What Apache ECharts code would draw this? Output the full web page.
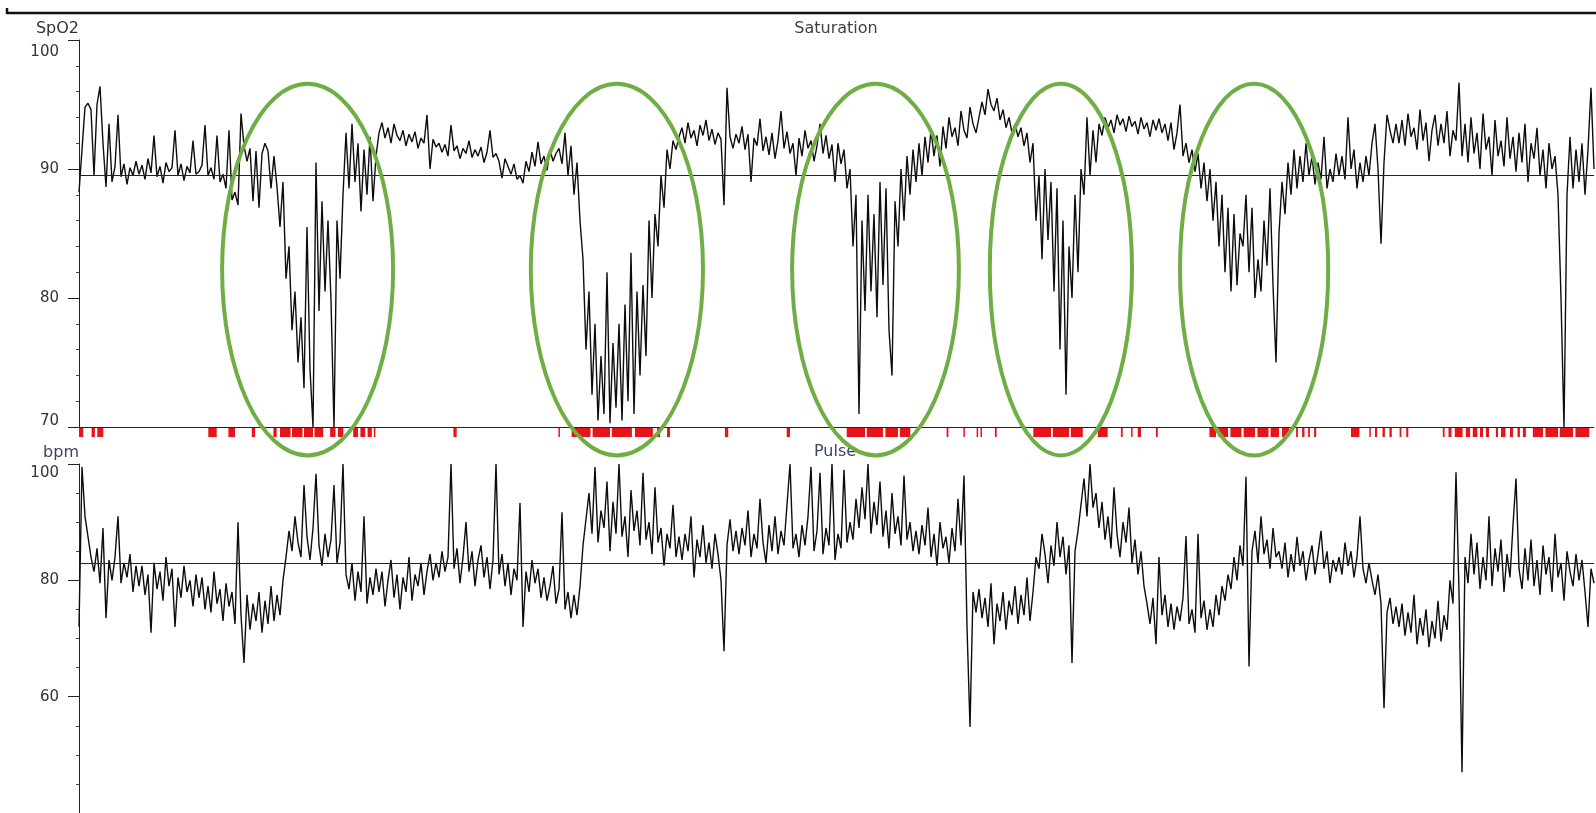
<!DOCTYPE html>
<html><head><meta charset="utf-8">
<script src="https://cdn.jsdelivr.net/npm/echarts@6/dist/echarts.min.js"></script>
<style>html,body{margin:0;padding:0;background:#fff}#chart{width:1596px;height:813px}</style>
</head><body><div id="chart"></div>
<script>
// SpO2 samples (%), one every 3 px of recording time
const spo2Values = [
88.2,91.5,94.8,95.1,94.6,89.5,95.0,96.4,92.0,88.6,93.5,89.0,90.2,94.2,89.4,90.4,88.8,90.1,89.5,90.6,
89.6,90.3,89.2,90.8,89.7,92.6,89.4,90.2,88.9,90.5,89.8,90.1,93.0,89.5,90.4,89.1,90.2,89.7,92.2,89.6,
89.8,90.3,93.4,89.5,90.1,89.2,92.6,89.0,89.6,88.5,93.0,87.6,88.2,87.2,94.3,91.8,90.6,91.6,87.5,91.4,
87.0,91.2,92.0,91.4,88.5,91.0,88.6,85.5,89.0,81.5,84.0,77.5,80.5,75.0,78.5,73.0,85.5,74.5,70.0,90.5,
79.0,87.5,80.5,86.0,79.8,70.0,86.0,81.5,88.0,92.8,88.5,93.5,89.0,92.0,86.7,91.5,88.0,92.5,87.5,91.0,
92.8,93.6,92.4,93.2,92.0,93.5,92.6,92.2,93.0,91.8,92.7,92.1,92.9,91.6,92.4,92.0,94.2,90.0,92.3,91.7,
92.0,91.3,91.9,91.0,93.4,91.4,91.8,90.8,91.6,91.2,92.2,90.9,91.5,91.0,91.7,90.5,91.3,93.0,90.9,91.2,
90.6,89.3,90.8,90.2,89.6,90.4,89.2,89.5,88.9,90.6,89.8,91.3,90.2,92.1,90.4,91.0,89.9,91.5,90.6,91.2,
91.6,90.4,92.8,89.5,91.8,88.0,90.5,86.0,83.0,76.0,80.5,72.5,78.0,70.5,75.5,71.0,82.0,70.3,76.5,71.5,
78.0,70.5,79.5,72.0,83.5,71.0,80.5,74.0,81.0,75.5,86.0,80.0,86.5,84.0,89.5,87.0,91.5,90.0,92.2,91.5,
92.5,93.2,92.0,93.6,92.4,93.0,91.8,93.4,92.6,93.8,92.2,93.1,91.9,92.8,92.3,87.2,96.3,92.5,91.6,92.7,
92.0,93.3,91.5,92.7,89.0,92.4,91.8,93.9,91.4,92.5,91.1,92.8,90.8,92.2,94.5,91.6,92.9,91.2,92.0,89.5,
92.4,91.0,93.0,91.6,92.2,90.6,91.8,93.5,91.2,92.6,90.8,91.9,89.0,92.0,90.4,91.5,88.5,90.0,84.0,88.0,
71.0,86.0,79.0,88.0,80.5,86.5,78.5,89.0,81.0,88.5,77.5,74.0,87.5,84.0,90.0,86.0,91.0,88.0,91.5,89.0,
92.0,89.5,92.5,90.5,93.0,91.0,92.6,90.2,93.3,91.6,94.0,92.5,93.2,91.8,94.5,93.0,92.4,94.8,93.5,92.8,
94.0,95.2,94.2,96.2,95.0,94.5,95.5,93.8,94.6,93.2,94.0,92.8,93.5,92.5,93.2,91.8,92.8,90.5,92.0,86.0,
89.5,83.0,90.0,84.5,89.0,80.5,88.5,76.0,86.0,72.5,84.0,80.0,88.0,82.0,90.0,88.0,94.0,89.5,93.0,90.5,
93.5,92.6,94.0,93.2,93.8,92.8,94.2,93.4,93.9,92.9,94.1,93.3,93.7,92.7,94.0,93.1,93.6,92.5,93.8,93.0,
93.9,92.8,93.5,92.2,93.6,91.5,92.8,95.0,91.0,92.0,90.5,91.5,89.8,91.2,88.5,90.5,87.5,90.0,86.0,89.0,
84.0,88.0,82.0,87.0,80.5,86.5,81.0,85.0,84.0,88.0,82.0,87.0,80.0,83.0,80.5,86.0,82.5,88.5,81.0,75.0,
85.0,89.0,86.5,90.5,88.0,91.5,88.5,91.0,89.0,92.0,89.5,91.0,88.8,90.5,89.2,92.5,88.5,90.0,89.0,91.2,
89.5,91.0,89.2,94.0,90.0,91.5,88.5,90.5,89.0,91.0,89.5,92.0,93.5,90.0,84.2,90.5,94.2,93.0,92.0,93.5,
92.0,93.8,91.8,94.3,92.5,93.2,91.5,94.6,92.2,93.6,90.6,93.0,94.2,91.8,93.5,92.0,94.5,91.0,93.0,92.2,
96.7,91.0,93.5,90.5,94.0,91.2,92.8,90.0,94.3,91.5,92.5,89.5,93.8,91.0,92.2,90.2,94.0,90.8,92.5,89.8,
92.8,90.5,93.5,89.0,92.0,90.8,93.2,89.5,91.5,88.5,92.0,90.0,91.0,88.0,80.0,70.0,88.0,92.5,88.5,91.5,
89.0,92.0,88.0,91.5,96.3,90.0
];
// Pulse samples (bpm), same time base
const pulseValues = [
72.0,99.5,91.0,87.5,84.0,81.5,85.5,79.5,89.0,73.5,83.5,80.0,84.0,91.0,79.5,83.0,80.5,84.5,78.0,82.5,
79.0,82.5,77.5,81.0,71.0,83.0,78.5,81.5,76.5,84.0,79.0,82.0,72.0,80.5,77.0,82.5,78.0,80.0,75.5,81.0,
77.0,80.5,75.0,79.0,74.5,81.5,76.0,78.5,73.0,79.5,75.5,78.0,72.5,90.0,74.0,65.8,77.5,71.5,76.0,73.0,
78.0,71.0,76.5,72.5,79.0,73.0,77.5,74.0,80.0,84.0,88.5,85.0,91.0,86.5,84.0,96.4,87.5,83.5,89.0,98.3,
86.0,82.5,88.0,84.0,87.0,96.4,83.0,86.5,100.0,81.0,78.5,83.0,76.5,81.5,78.0,91.0,76.0,80.5,77.5,82.0,
78.0,81.5,75.5,80.0,83.5,77.0,81.0,75.0,80.5,78.0,84.0,76.5,81.0,79.0,83.0,77.5,81.5,84.5,80.0,83.0,
80.5,85.0,81.5,84.0,100.0,82.0,85.5,79.5,84.0,90.0,81.5,85.0,79.0,83.5,86.0,80.5,84.0,78.5,83.5,100.0,
81.0,84.5,79.0,83.0,77.5,82.0,80.0,93.3,72.0,81.5,78.0,83.5,79.5,82.0,77.0,80.5,76.5,79.0,82.5,76.0,
78.5,91.7,75.0,78.0,73.5,77.5,74.0,79.0,86.0,90.5,95.0,88.0,99.5,86.5,92.0,89.0,97.0,85.0,93.5,88.0,
100.0,87.5,91.0,84.0,95.5,88.5,92.0,86.0,98.5,87.0,90.0,84.5,96.0,86.5,89.0,82.5,88.0,85.5,93.0,84.0,
87.5,83.5,88.0,85.0,91.0,80.5,87.0,84.0,89.5,83.0,86.5,82.0,88.0,84.5,80.0,67.8,86.0,90.5,85.0,88.5,
84.5,89.0,86.0,92.0,84.0,88.0,85.5,94.0,86.5,83.0,89.5,85.0,91.0,84.5,88.5,86.0,93.0,100.0,85.5,88.0,
84.0,89.5,86.0,91.0,99.5,85.0,88.5,98.5,84.5,89.0,86.0,100.0,83.5,88.0,85.5,99.0,86.5,90.0,87.0,94.0,
89.0,96.0,90.5,100.0,88.0,93.5,89.5,97.0,87.5,92.0,85.5,95.0,88.0,91.0,86.0,98.0,87.0,90.0,85.0,88.5,
84.5,89.5,86.0,92.5,84.0,88.0,82.5,90.0,85.5,87.5,83.0,89.0,85.0,94.0,86.0,98.0,72.0,54.8,78.0,74.5,
78.5,73.5,77.0,72.0,79.5,69.0,76.0,73.0,78.0,71.5,76.5,74.0,79.0,72.5,77.5,74.0,80.5,73.0,78.0,84.0,
82.0,88.0,84.5,79.5,86.0,82.5,90.0,84.0,87.5,81.0,86.0,65.8,85.0,88.5,93.0,97.5,91.0,100.0,92.5,95.0,
89.0,93.5,87.0,91.0,85.5,96.0,88.0,84.0,90.0,86.5,92.5,83.0,87.0,81.0,85.0,79.0,76.0,72.5,77.0,69.0,
84.0,74.0,77.5,72.0,76.0,71.5,75.5,73.0,77.0,87.6,72.5,75.0,71.0,88.0,73.5,76.5,71.5,75.0,72.0,77.5,
74.0,79.0,76.5,81.0,78.5,84.0,80.0,86.0,82.5,97.8,65.2,85.0,88.5,83.0,91.0,84.5,87.0,82.0,89.0,84.0,
85.0,82.0,86.5,80.5,84.5,81.5,87.5,82.5,85.0,80.0,83.5,86.0,81.0,84.5,88.5,82.0,85.0,79.5,83.5,81.5,
84.0,81.0,86.5,82.5,85.0,80.5,84.0,91.0,82.0,79.5,83.0,80.0,77.5,81.0,76.0,58.0,74.5,77.0,72.5,75.5,
72.0,76.0,70.5,74.5,71.0,77.5,69.0,73.5,70.5,75.0,68.5,73.0,70.0,76.5,69.5,74.0,71.5,80.0,76.0,98.6,
78.0,47.0,84.0,79.5,88.0,81.0,86.5,78.5,84.0,80.0,91.0,79.0,85.5,81.5,87.0,78.0,84.5,80.5,89.5,97.5,
82.0,78.5,85.5,80.0,87.0,79.0,83.5,77.5,86.0,81.0,84.0,78.0,88.0,80.5,83.0,76.5,85.0,81.5,79.0,84.5,
80.0,83.5,78.0,72.0,82.0,79.5
];
// Desaturation event marks [start, end] in sample units
const desatEvents = [
[0,1.4],[4.2,5.3],[6.1,8.1],[43.1,45.9],[49.8,52],[57.6,58.7],[64.8,65.9],
[67,70.5],[71,74.5],[75,78],[78.5,81.4],[83.7,85.5],[86.3,88.1],
[91.4,93],[93.8,95.4],[96.2,97.6],[98.3,98.7],[124.8,125.9],[159.8,160.3],
[164.2,170.5],[171.2,177],[177.6,184.3],[185.3,191.3],[192.7,193.7],[196,197],
[215.3,216.4],[235.9,237],[255.9,262],[262.6,268],[268.8,273],[273.6,277.1],
[289.2,289.8],[294.8,295.3],[299.2,299.7],[300.5,301],[305.3,305.9],
[318.1,324],[324.6,330],[330.6,334.6],[339.6,342.9],[347.3,347.9],[350.7,351.2],
[352.9,354],[359,359.6],[376.8,379],[379.8,383],[383.8,387.5],[388.2,392],
[392.8,396.5],[397.2,400],[401,403.4],[405.7,406.3],[407.7,408.5],[409.7,410.3],
[411.7,412.4],[424,426.8],[430.1,430.6],[432,432.7],[434.5,435.3],[436.8,437.6],
[440.2,440.8],[442.4,443.1],[454.6,455.2],[456.5,457.5],[458.6,461.2],
[462.3,463.7],[464.6,466.1],[467,468],[469,470],[472.3,473],[474,475.5],
[477,478],[479.5,480.3],[481.3,482.3],[484.6,488],[488.8,493],[493.6,498],[498.8,503.4]
];
const spo2Baseline = 89.5;
const pulseBaseline = 83;
// Highlighted desaturation clusters (ellipses) in data units
const ellipseCenters = [76.2, 179.3, 265.5, 327.3, 391.7];
const ellipseHalfWidths = [28.5, 28.7, 27.8, 23.7, 24.7];
const ellipseCenterSpO2 = 82.2;
const ellipseHalfHeightSpO2 = 14.4;

const FONT = 'DejaVu Sans';
const TXT = '#333';
const chart = echarts.init(document.getElementById('chart'), null, {renderer: 'canvas'});
const spo2Data = spo2Values.map((v, i) => [i, v]);
const pulseData = pulseValues.map((v, i) => [i, v]);
const lastIdx = spo2Values.length - 1;

const labelStyle = {fontFamily: FONT, fontSize: 15, color: TXT};
chart.setOption({
  animation: false,
  backgroundColor: '#fff',
  title: [
    {text: 'Saturation', left: 836, top: 21, textAlign: 'center', padding: 0,
     textStyle: {fontFamily: FONT, fontSize: 16, fontWeight: 'normal', color: '#3b3f4a'}},
    {text: 'Pulse', left: 835, top: 444, textAlign: 'center', padding: 0,
     textStyle: {fontFamily: FONT, fontSize: 16, fontWeight: 'normal', color: '#3b4560'}}
  ],
  grid: [
    {left: 79, top: 40, width: 1515, height: 387},
    {left: 79, top: 464, width: 1515, height: 384}
  ],
  xAxis: [
    {type: 'value', gridIndex: 0, min: 0, max: lastIdx,
     axisLine: {show: true, onZero: false, lineStyle: {color: '#222', width: 1}},
     axisTick: {show: false}, axisLabel: {show: false}, splitLine: {show: false}},
    {type: 'value', gridIndex: 1, min: 0, max: lastIdx, show: false}
  ],
  yAxis: [
    {type: 'value', gridIndex: 0, min: 70, max: 100, interval: 10,
     name: 'SpO2', nameLocation: 'end', nameGap: 3,
     nameTextStyle: {fontFamily: FONT, fontSize: 16, color: TXT, align: 'right', padding: [0, 0, 0, 0]},
     axisLine: {show: true, lineStyle: {color: '#222', width: 1}},
     axisTick: {show: true, length: 11, lineStyle: {color: '#222'}},
     minorTick: {show: true, splitNumber: 5, length: 3, lineStyle: {color: '#444'}},
     splitLine: {show: false},
     axisLabel: Object.assign({margin: 20, formatter: v => v === 100 ? '{t|100}' : (v === 70 ? '{b|70}' : String(v)),
       rich: {t: Object.assign({padding: [24, 0, 0, 0]}, labelStyle), b: Object.assign({padding: [0, 0, 12, 0]}, labelStyle)}}, labelStyle)},
    {type: 'value', gridIndex: 1, min: 40, max: 100, interval: 20,
     name: 'bpm', nameLocation: 'end', nameGap: 3,
     nameTextStyle: {fontFamily: FONT, fontSize: 16, color: '#3b4560', align: 'right', padding: [0, 0, 0, 0]},
     axisLine: {show: true, lineStyle: {color: '#222', width: 1}},
     axisTick: {show: true, length: 11, lineStyle: {color: '#222'}},
     minorTick: {show: true, splitNumber: 4, length: 3, lineStyle: {color: '#444'}},
     splitLine: {show: false},
     axisLabel: Object.assign({margin: 20, formatter: v => v === 100 ? '{t|100}' : (v === 40 ? '' : String(v)),
       rich: {t: Object.assign({padding: [18, 0, 0, 0]}, labelStyle)}}, labelStyle)}
  ],
  series: [
    {type: 'line', xAxisIndex: 0, yAxisIndex: 0, data: spo2Data, showSymbol: false, symbol: 'none',
     lineStyle: {color: '#0d0d0d', width: 1.4}, silent: true, z: 3,
     markLine: {silent: true, symbol: 'none', label: {show: false},
       lineStyle: {color: '#222', width: 1, type: 'solid'}, data: [{yAxis: spo2Baseline}]}},
    {type: 'line', xAxisIndex: 1, yAxisIndex: 1, data: pulseData, showSymbol: false, symbol: 'none',
     lineStyle: {color: '#0d0d0d', width: 1.4}, silent: true, z: 3,
     markLine: {silent: true, symbol: 'none', label: {show: false},
       lineStyle: {color: '#222', width: 1, type: 'solid'}, data: [{yAxis: pulseBaseline}]}},
    {type: 'custom', xAxisIndex: 0, yAxisIndex: 0, data: desatEvents, encode: {x: [0, 1]}, clip: false, silent: true, z: 2,
     renderItem: (params, api) => {
       const p0 = api.coord([api.value(0), 70]);
       const p1 = api.coord([api.value(1), 70]);
       return {type: 'rect', shape: {x: p0[0], y: p0[1] + 1, width: Math.max(p1[0] - p0[0], 1.5), height: 9},
               style: {fill: '#e8141c'}};
     }}
  ]
});

const shapes = ellipseCenters.map((cx, i) => {
  const c = chart.convertToPixel({xAxisIndex: 0, yAxisIndex: 0}, [cx, ellipseCenterSpO2]);
  const e = chart.convertToPixel({xAxisIndex: 0, yAxisIndex: 0}, [cx + ellipseHalfWidths[i], ellipseCenterSpO2 + ellipseHalfHeightSpO2]);
  return {type: 'ellipse', z: 100, silent: true,
    shape: {cx: c[0], cy: c[1], rx: e[0] - c[0], ry: c[1] - e[1]},
    style: {fill: 'none', stroke: '#6fae45', lineWidth: 4}};
});
shapes.push({type: 'polyline', z: 100, silent: true, shape: {points: [[7, 8], [7, 13], [1596, 13]]},
  style: {fill: 'none', stroke: '#111', lineWidth: 2.5}});
chart.setOption({graphic: shapes});
</script></body></html>
